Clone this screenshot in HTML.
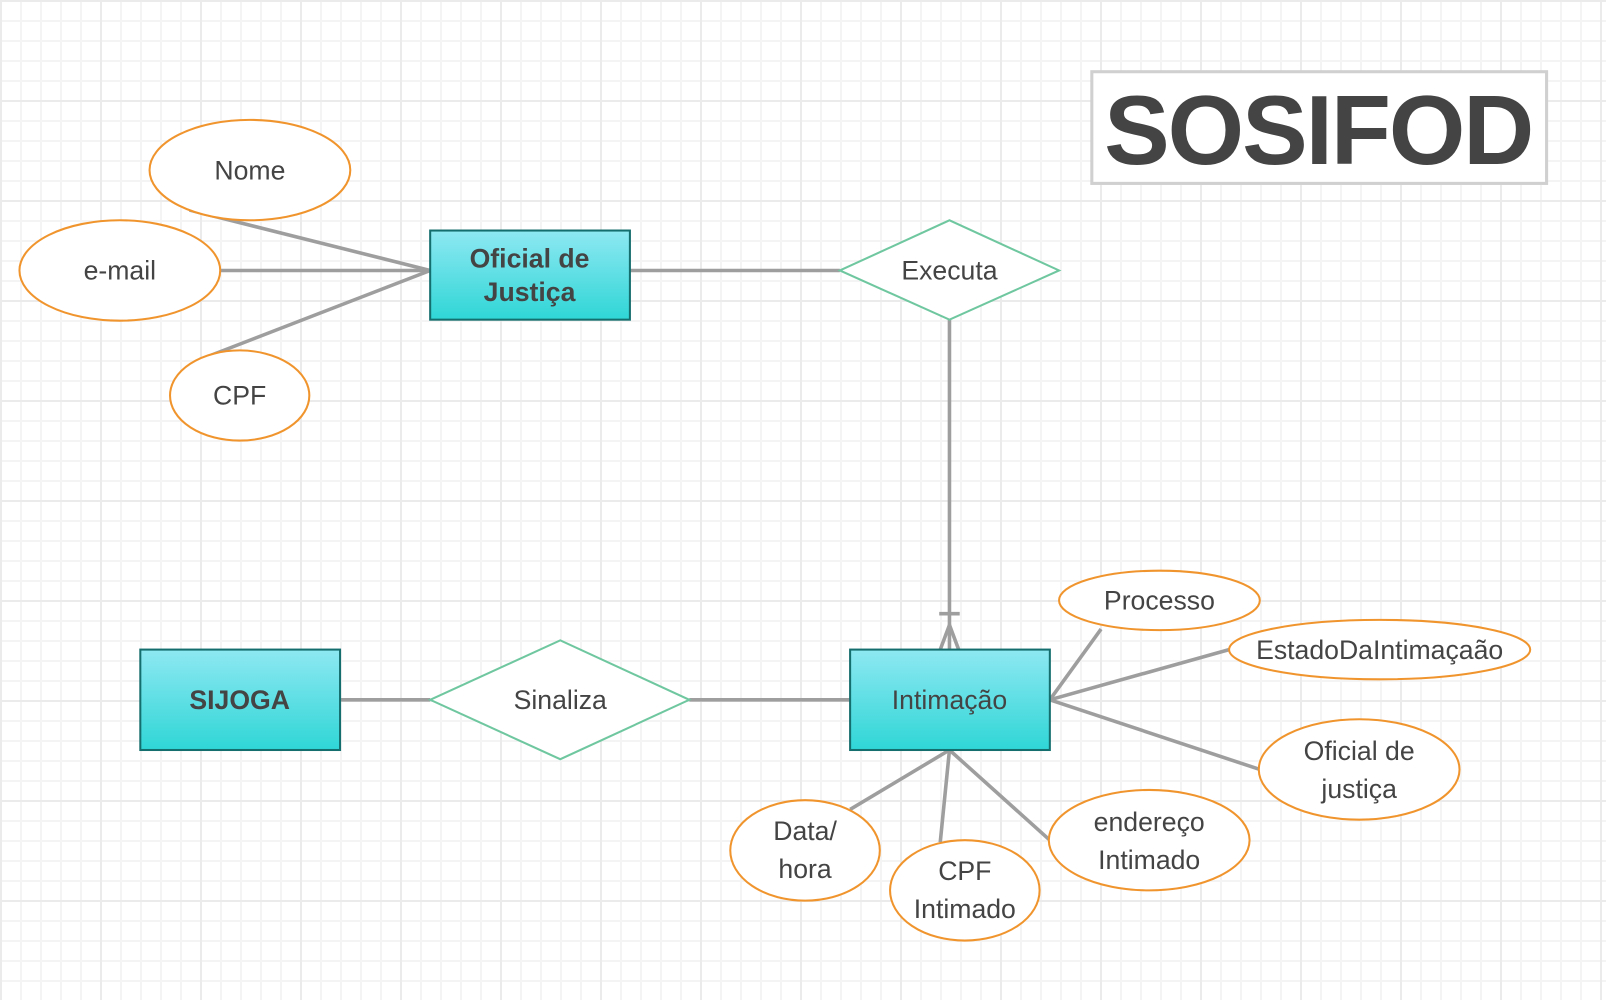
<!DOCTYPE html>
<html><head><meta charset="utf-8"><style>
html,body{margin:0;padding:0;}
body{width:1606px;height:1000px;overflow:hidden;background-color:#fff;
background-image:
linear-gradient(#ebebeb 2px,transparent 2px),
linear-gradient(90deg,#ebebeb 2px,transparent 2px),
linear-gradient(#f4f4f4 2px,transparent 2px),
linear-gradient(90deg,#f4f4f4 2px,transparent 2px);
background-size:100px 100px,100px 100px,20px 20px,20px 20px;}
svg{position:absolute;left:0;top:0;}
text{font-family:"Liberation Sans",sans-serif;fill:#444;}
</style></head><body>
<svg width="1606" height="1000" viewBox="0 0 1568 976" preserveAspectRatio="none">
<defs><linearGradient id="g" x1="0" y1="0" x2="0" y2="1"><stop offset="0" stop-color="#8ee8f2"/><stop offset="1" stop-color="#2fd6d6"/></linearGradient></defs>
<g stroke="#9e9e9e" stroke-width="3.5" fill="none">
<line x1="185" y1="205" x2="420" y2="264"/>
<line x1="215" y1="264" x2="420" y2="264"/>
<line x1="195" y1="351" x2="420" y2="264"/>
<line x1="615" y1="264" x2="820" y2="264"/>
<line x1="927" y1="312" x2="927" y2="634"/>
<line x1="917" y1="599" x2="937" y2="599"/>
<line x1="927" y1="610" x2="918" y2="634"/>
<line x1="927" y1="610" x2="936" y2="634"/>
<line x1="332" y1="683" x2="420" y2="683"/>
<line x1="673" y1="683" x2="830" y2="683"/>
<line x1="1025" y1="683" x2="1075" y2="614"/>
<line x1="1025" y1="683" x2="1200" y2="634"/>
<line x1="1025" y1="683" x2="1230" y2="751"/>
<line x1="927" y1="732" x2="830" y2="790"/>
<line x1="927" y1="732" x2="918" y2="822"/>
<line x1="927" y1="732" x2="1025" y2="820"/>
</g>
<g fill="#fff" stroke="#f0952e" stroke-width="2">
<ellipse cx="244" cy="166" rx="98" ry="49"/>
<ellipse cx="117" cy="264" rx="98" ry="49"/>
<ellipse cx="234" cy="386" rx="68" ry="44"/>
<ellipse cx="1132" cy="586" rx="98" ry="29"/>
<ellipse cx="1347" cy="634" rx="147" ry="29"/>
<ellipse cx="1327" cy="751" rx="98" ry="49"/>
<ellipse cx="1122" cy="820" rx="98" ry="49"/>
<ellipse cx="942" cy="869" rx="73" ry="49"/>
<ellipse cx="786" cy="830" rx="73" ry="49"/>
</g>
<g fill="#fff" stroke="#6fc7a0" stroke-width="2">
<polygon points="820,264 927,215 1034,264 927,312"/>
<polygon points="420,683 547,625 673,683 547,741"/>
</g>
<g fill="url(#g)" stroke="#156e6e" stroke-width="2">
<rect x="420" y="225" width="195" height="87"/>
<rect x="137" y="634" width="195" height="98"/>
<rect x="830" y="634" width="195" height="98"/>
</g>
<rect x="1066" y="70" width="444" height="109" fill="#fff" stroke="#d0d0d0" stroke-width="3"/>
<text x="1288" y="160" font-size="96" font-weight="bold" text-anchor="middle" fill="#444" textLength="420">SOSIFOD</text>
<g font-size="26" text-anchor="middle">
<text x="244" y="175">Nome</text>
<text x="117" y="273">e-mail</text>
<text x="234" y="395">CPF</text>
<text x="927" y="273">Executa</text>
<text x="547" y="692">Sinaliza</text>
<text x="517" y="261" font-weight="bold" fill="#173c44">Oficial de</text>
<text x="517" y="294" font-weight="bold" fill="#173c44">Justiça</text>
<text x="234" y="692" font-weight="bold" fill="#173c44">SIJOGA</text>
<text x="927" y="692" fill="#173c44">Intimação</text>
<text x="1132" y="595">Processo</text>
<text x="1347" y="643">EstadoDaIntimaçaão</text>
<text x="1327" y="742">Oficial de</text>
<text x="1327" y="779">justiça</text>
<text x="1122" y="811">endereço</text>
<text x="1122" y="848">Intimado</text>
<text x="942" y="859">CPF</text>
<text x="942" y="896">Intimado</text>
<text x="786" y="820">Data/</text>
<text x="786" y="857">hora</text>
</g>
</svg>
</body></html>
